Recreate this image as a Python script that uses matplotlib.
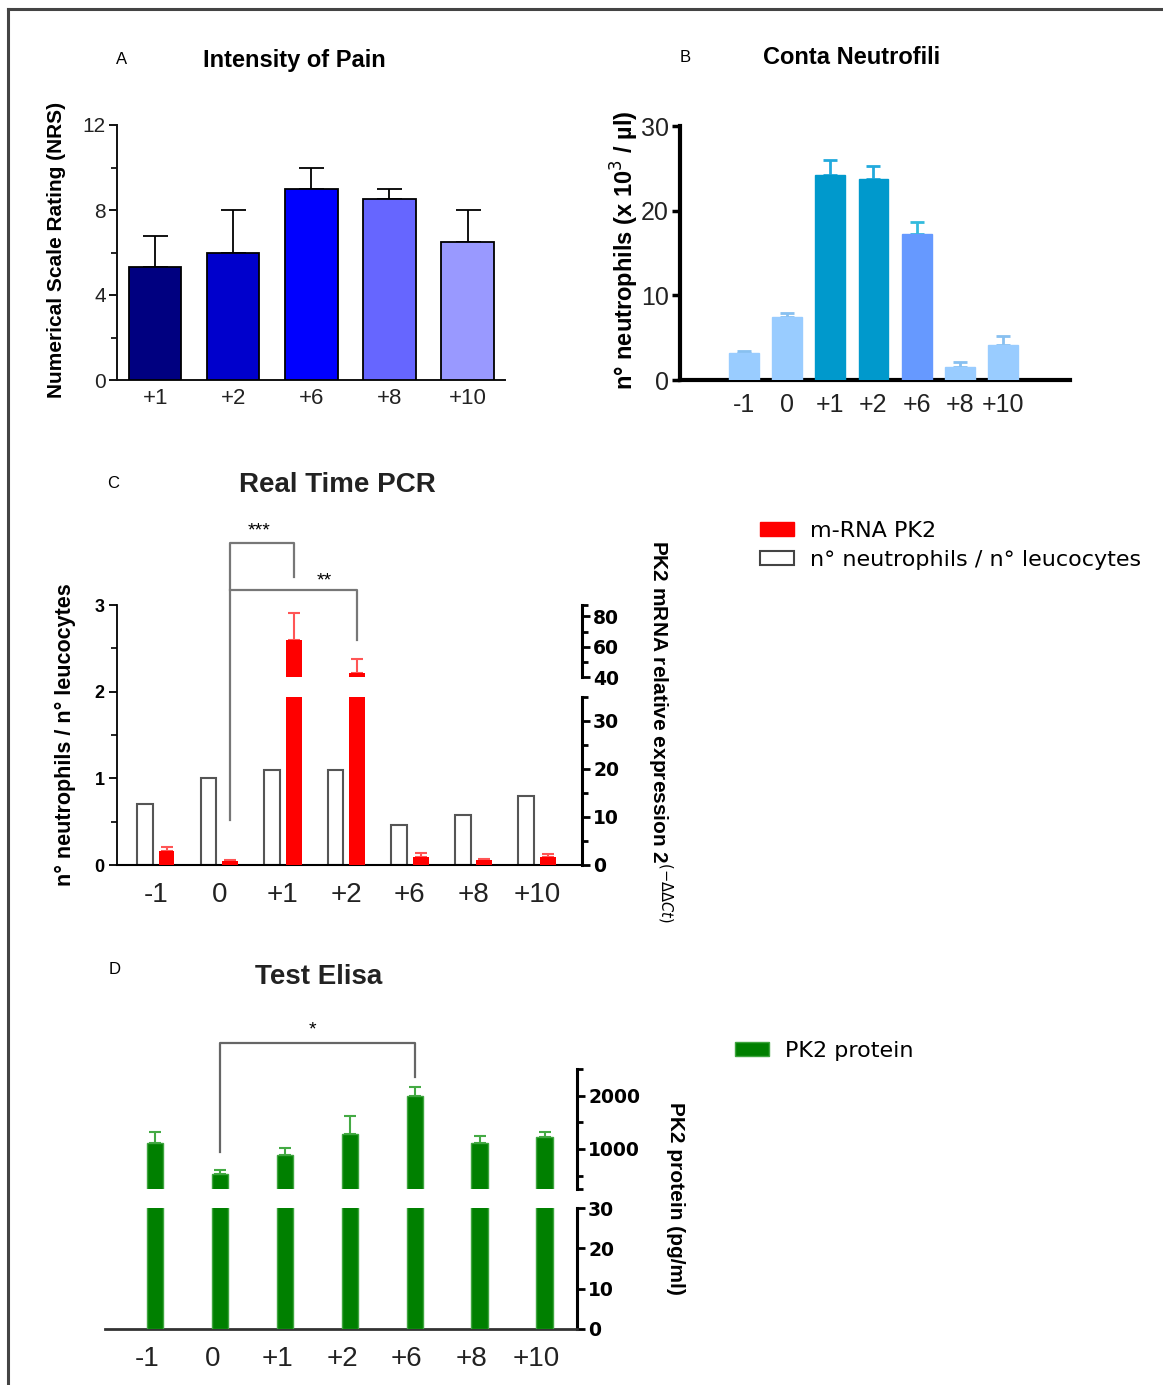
import matplotlib
matplotlib.use('Agg')
import matplotlib.pyplot as plt
import numpy as np
from matplotlib.patches import Patch
from matplotlib.lines import Line2D
from matplotlib.ticker import FixedLocator

plt.rcParams['font.family'] = ['Liberation Sans', 'DejaVu Sans']

W, H = 1163, 1385

# ---------------- data ----------------
# Panel A
pain_days = ['+1', '+2', '+6', '+8', '+10']
pain_mean = [5.3, 6.0, 9.0, 8.5, 6.5]
pain_err = [1.5, 2.0, 1.0, 0.5, 1.5]
pain_colors = ['#000080', '#0000CC', '#0000FF', '#6666FF', '#9999FF']

# Panel B
neut_days = ['-1', '0', '+1', '+2', '+6', '+8', '+10']
neut_mean = [3.15, 7.5, 24.2, 23.7, 17.3, 1.5, 4.1]
neut_err = [0.25, 0.4, 1.8, 1.6, 1.4, 0.6, 1.1]
neut_colors = ['#99CCFF', '#99CCFF', '#0099CC', '#0099CC', '#6699FF', '#99CCFF', '#99CCFF']
neut_err_colors = ['#88C0F0', '#88C0F0', '#22AADD', '#22AADD', '#33BBDD', '#88C0F0', '#88C0F0']

# Panel C
pcr_days = ['-1', '0', '+1', '+2', '+6', '+8', '+10']
ratio_vals = [0.7, 1.0, 1.1, 1.1, 0.46, 0.58, 0.8]
mrna_mean = [3.0, 0.8, 64.7, 42.9, 1.75, 1.0, 1.75]
mrna_err = [0.8, 0.3, 17.3, 8.9, 0.7, 0.3, 0.5]

# Panel D
elisa_days = ['-1', '0', '+1', '+2', '+6', '+8', '+10']
elisa_mean = [1120, 530, 890, 1280, 2000, 1120, 1220]
elisa_err = [190, 75, 125, 330, 155, 125, 90]

WIDE = ['DejaVu Sans']


def rect(l, t, r, b):
    return [l / W, 1 - b / H, (r - l) / W, (b - t) / H]


def fx(px):
    return px / W


def fy(py):
    return 1 - py / H


fig = plt.figure(figsize=(W / 100, H / 100), dpi=100)

# border
fig.add_artist(Line2D([fx(8), fx(8)], [0, fy(9)], transform=fig.transFigure, color='#444444', lw=2.2))
fig.add_artist(Line2D([fx(8), 1], [fy(9), fy(9)], transform=fig.transFigure, color='#444444', lw=2.2))

# ---------------- Panel A ----------------
axA = fig.add_axes(rect(117, 125, 505, 380))
xa = np.arange(len(pain_days))
axA.bar(xa, pain_mean, width=0.67, color=pain_colors, edgecolor='black', linewidth=1.3, zorder=3)
axA.errorbar(xa, pain_mean, yerr=[np.zeros(len(xa)), pain_err], fmt='none', ecolor='black',
             elinewidth=1.3, capsize=9, capthick=1.3, zorder=2)
axA.set_xlim(-0.49, 4.48)
axA.set_ylim(0, 12)
axA.set_xticks(xa)
axA.set_xticklabels(pain_days)
axA.set_yticks([0, 4, 8, 12])
axA.yaxis.set_minor_locator(FixedLocator([2, 6, 10]))
for s in ['top', 'right']:
    axA.spines[s].set_visible(False)
for s in ['left', 'bottom']:
    axA.spines[s].set_linewidth(1.4)
    axA.spines[s].set_color('#111111')
axA.tick_params(axis='x', length=0, labelsize=16, pad=6, labelcolor='#222222')
axA.tick_params(axis='y', which='major', direction='out', length=6, width=1.3, labelsize=15,
                pad=2, labelcolor='#222222')
axA.tick_params(axis='y', which='minor', direction='out', length=4, width=1.2)
fig.text(fx(122), fy(60), 'A', fontsize=12, ha='center', va='center')
fig.text(fx(294), fy(60), 'Intensity of Pain', fontsize=17, fontweight='bold', ha='center', va='center')
fig.text(fx(57), fy(250), 'Numerical Scale Rating (NRS)', fontsize=15, fontweight='bold',
         rotation=90, ha='center', va='center')

# ---------------- Panel B ----------------
axB = fig.add_axes(rect(680, 126, 1070, 380))
xb = np.arange(len(neut_days))
axB.bar(xb, neut_mean, width=0.69, color=neut_colors, edgecolor=neut_colors, linewidth=1, zorder=3)
for xi, m, e, c in zip(xb, neut_mean, neut_err, neut_err_colors):
    axB.errorbar([xi], [m], yerr=[[0], [e]], fmt='none', ecolor=c, elinewidth=2,
                 capsize=5, capthick=2, zorder=2)
axB.set_xlim(-1.48, 7.55)
axB.set_ylim(0, 30)
axB.set_xticks(xb)
axB.set_xticklabels(neut_days)
axB.set_yticks([0, 10, 20, 30])
for s in ['top', 'right']:
    axB.spines[s].set_visible(False)
for s in ['left', 'bottom']:
    axB.spines[s].set_linewidth(3)
axB.tick_params(axis='x', length=0, labelsize=18, pad=9, labelcolor='#222222')
axB.tick_params(axis='y', direction='out', length=6, width=2.5, labelsize=18, pad=2,
                labelcolor='#222222')
fig.text(fx(685), fy(57), 'B', fontsize=12, ha='center', va='center')
fig.text(fx(852), fy(57), 'Conta Neutrofili', fontsize=17, fontweight='bold', ha='center', va='center')
fig.text(fx(625), fy(250), 'n° neutrophils (x 10$^{3}$ / µl)', fontsize=17, fontweight='bold',
         rotation=90, ha='center', va='center')

# ---------------- Panel C ----------------
xlimC = (-0.61, 6.71)
axC = fig.add_axes(rect(117, 605, 582, 865))
xc = np.arange(len(pcr_days))
axC.bar(xc - 0.17, ratio_vals, width=0.25, facecolor='white', edgecolor='#555555', linewidth=1.5)
axC.set_xlim(*xlimC)
axC.set_ylim(0, 3)
axC.set_xticks(xc)
axC.set_xticklabels(pcr_days)
axC.set_yticks([0, 1, 2, 3])
axC.yaxis.set_minor_locator(FixedLocator([0.5, 1.5, 2.5]))
for s in ['top', 'right']:
    axC.spines[s].set_visible(False)
axC.spines['left'].set_linewidth(1.3)
axC.spines['bottom'].set_linewidth(1.5)
axC.tick_params(axis='x', length=0, labelsize=20, pad=12, labelcolor='#222222')
axC.tick_params(axis='y', which='major', direction='out', length=6, width=1.3, labelsize=13, pad=3)
axC.tick_params(axis='y', which='minor', direction='out', length=4, width=1.2)
for lab in axC.get_yticklabels():
    lab.set_fontweight('bold')

# significance brackets (left-axis coordinates)
br_kw = dict(color='#777777', lw=1.6, clip_on=False)
axC.plot([1.17, 1.17, 2.17, 2.17], [0.52, 3.71, 3.71, 3.32], **br_kw)
axC.plot([1.17, 3.17, 3.17], [3.17, 3.17, 2.6], **br_kw)
axC.text(1.62, 3.85, '***', fontsize=14, ha='center', va='center')
axC.text(2.65, 3.28, '**', fontsize=14, ha='center', va='center')

# right broken axis
axCu = fig.add_axes(rect(117, 605, 582, 677), facecolor='none')
axCl = fig.add_axes(rect(117, 697, 582, 865), facecolor='none')
for ax, ylim, maj, mino in [(axCu, (40, 87.5), [40, 60, 80], [50, 70, 87.5]),
                            (axCl, (0, 35), [0, 10, 20, 30], [5, 15, 25, 35])]:
    ax.bar(xc + 0.17, mrna_mean, width=0.25, color='#FF0000', zorder=3)
    ax.errorbar(xc + 0.17, mrna_mean, yerr=[np.zeros(len(xc)), mrna_err], fmt='none',
                ecolor='#FF5555', elinewidth=1.5, capsize=4, capthick=1.5, zorder=2)
    ax.set_xlim(*xlimC)
    ax.set_ylim(*ylim)
    ax.set_xticks([])
    for s in ['top', 'left', 'bottom']:
        ax.spines[s].set_visible(False)
    ax.spines['right'].set_linewidth(2.2)
    ax.yaxis.tick_right()
    ax.set_yticks(maj)
    ax.yaxis.set_minor_locator(FixedLocator(mino))
    ax.tick_params(axis='y', which='major', direction='out', length=6, width=2, labelsize=13.5, pad=2)
    ax.tick_params(axis='y', which='minor', direction='out', length=4, width=2)
    for lab in ax.get_yticklabels():
        lab.set_fontweight('bold')
        lab.set_family(WIDE)

fig.text(fx(113), fy(483), 'C', fontsize=12, ha='center', va='center')
fig.text(fx(337), fy(485), 'Real Time PCR', fontsize=20, fontweight='bold', ha='center', va='center',
         color='#222222')
fig.text(fx(65), fy(735), 'n° neutrophils / n° leucocytes', fontsize=15.5, fontweight='bold',
         rotation=90, ha='center', va='center')
fig.text(fx(660), fy(732), 'PK2 mRNA relative expression 2$^{(-\\Delta\\Delta Ct)}$', fontsize=15,
         fontweight='bold', rotation=270, ha='center', va='center')

fig.legend(handles=[Patch(facecolor='#FF0000', edgecolor='#FF0000', label='m-RNA PK2'),
                    Patch(facecolor='white', edgecolor='#444444', linewidth=1.5,
                          label='n° neutrophils / n° leucocytes')],
           loc='upper left', bbox_to_anchor=(fx(760), fy(521)), bbox_transform=fig.transFigure,
           frameon=False, prop={'family': WIDE, 'size': 16}, handlelength=1.55, handleheight=0.62,
           handletextpad=0.72, labelspacing=0.4, borderpad=0, borderaxespad=0)

# ---------------- Panel D ----------------
xlimD = (-0.65, 6.62)
xd = np.arange(len(elisa_days))
axD = fig.add_axes(rect(105, 1208, 577, 1329), facecolor='none')
axDu = fig.add_axes(rect(105, 1069, 577, 1189), facecolor='none')
for ax, ylim, maj, mino in [(axDu, (250, 2500), [1000, 2000], [250, 500, 1500, 2500]),
                            (axD, (0, 30), [0, 10, 20, 30], [])]:
    ax.bar(xd + 0.12, elisa_mean, width=0.25, color='#008000', edgecolor='#3FA53F', linewidth=1, zorder=3)
    ax.errorbar(xd + 0.12, elisa_mean, yerr=[np.zeros(len(xd)), elisa_err], fmt='none',
                ecolor='#44AA44', elinewidth=1.5, capsize=4, capthick=1.5, zorder=2)
    ax.set_xlim(*xlimD)
    ax.set_ylim(*ylim)
    for s in ['top', 'left']:
        ax.spines[s].set_visible(False)
    ax.spines['right'].set_linewidth(2.2)
    ax.yaxis.tick_right()
    ax.set_yticks(maj)
    ax.yaxis.set_minor_locator(FixedLocator(mino))
    ax.tick_params(axis='y', which='major', direction='out', length=6, width=2, labelsize=13.5, pad=2)
    ax.tick_params(axis='y', which='minor', direction='out', length=4, width=2)
    for lab in ax.get_yticklabels():
        lab.set_fontweight('bold')
        lab.set_family(WIDE)
axDu.spines['bottom'].set_visible(False)
axDu.set_xticks([])
axD.spines['bottom'].set_linewidth(2)
axD.spines['bottom'].set_color('#333333')
axD.set_xticks(xd)
axD.set_xticklabels(elisa_days)
axD.tick_params(axis='x', length=0, labelsize=20, pad=12, labelcolor='#222222')

br_kw = dict(color='#666666', lw=1.6, clip_on=False)
axDu.plot([1.12, 1.12, 4.12, 4.12], [950, 2982, 2982, 2356], **br_kw)
axDu.text(2.55, 3231, '*', fontsize=14, ha='center', va='center')

fig.text(fx(115), fy(970), 'D', fontsize=12, ha='center', va='center')
fig.text(fx(319), fy(977), 'Test Elisa', fontsize=20, fontweight='bold', ha='center', va='center',
         color='#222222')
fig.text(fx(675), fy(1198), 'PK2 protein (pg/ml)', fontsize=15, fontweight='bold',
         rotation=270, ha='center', va='center')

fig.legend(handles=[Patch(facecolor='#008000', edgecolor='#3FA53F', label='PK2 protein')],
           loc='upper left', bbox_to_anchor=(fx(735), fy(1041)), bbox_transform=fig.transFigure,
           frameon=False, prop={'family': WIDE, 'size': 16}, handlelength=1.55, handleheight=0.62,
           handletextpad=0.72, borderpad=0, borderaxespad=0)

fig.savefig('out.png', dpi=100)
